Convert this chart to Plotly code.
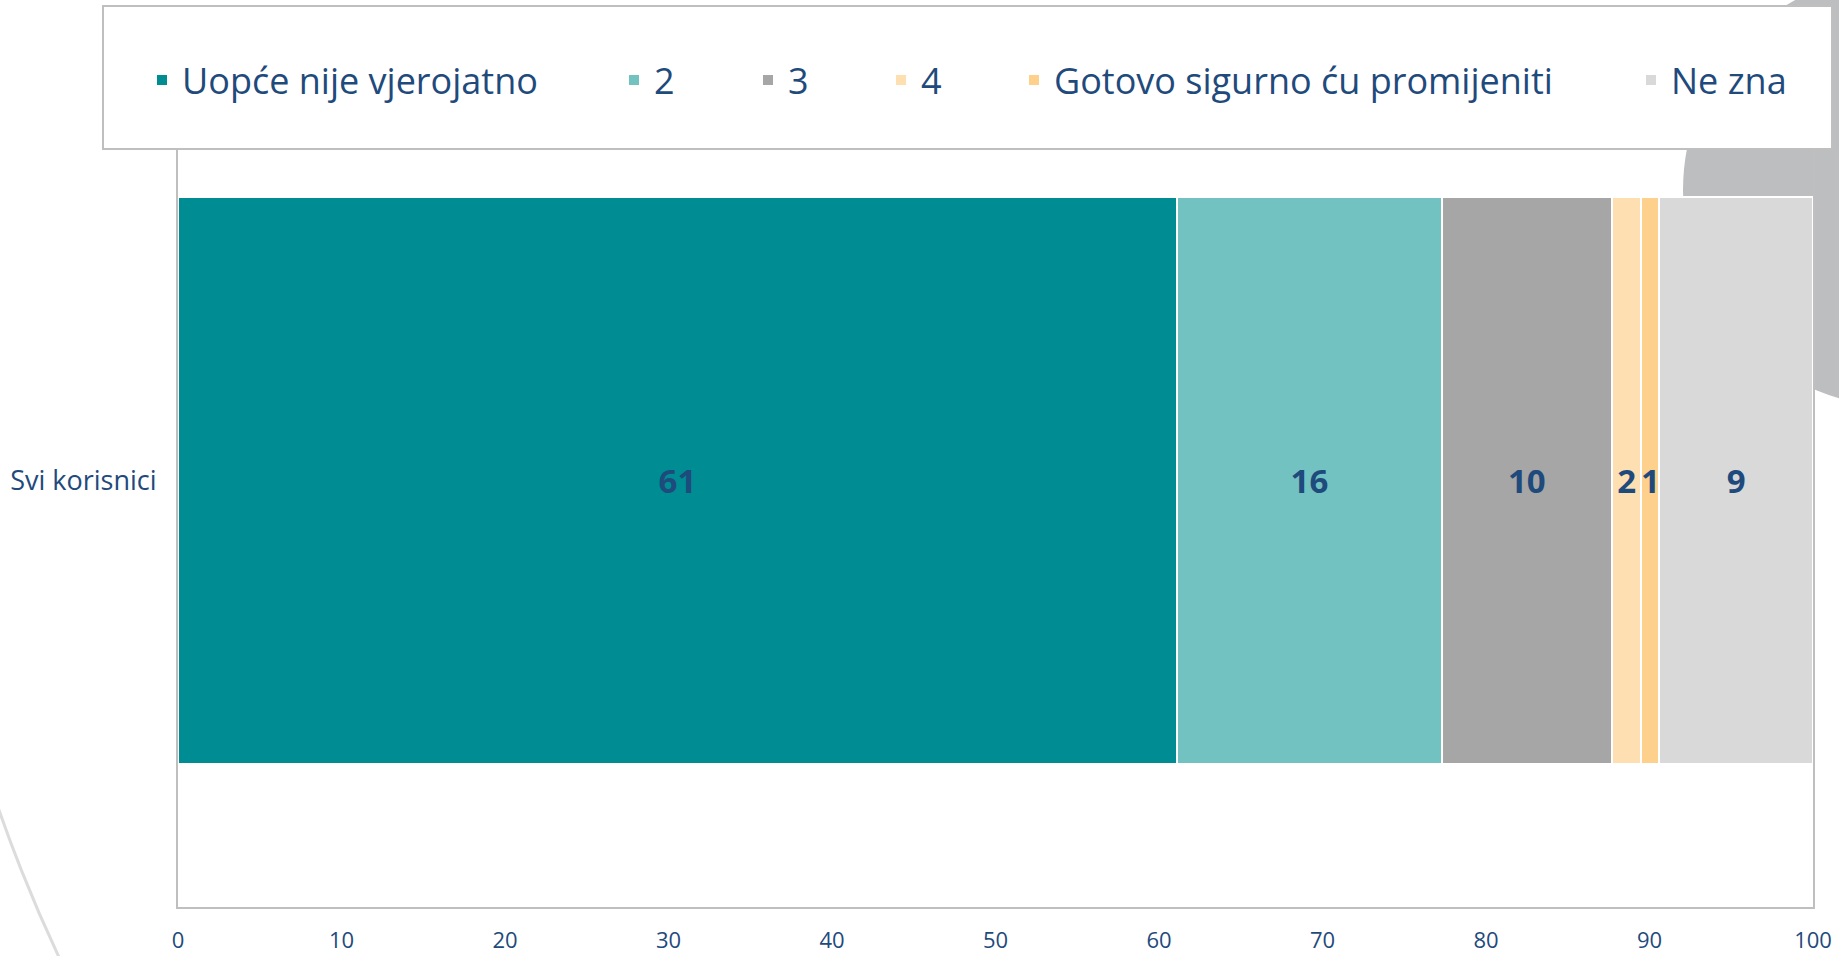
import plotly.graph_objects as go

# ---- data ----
category = ["Svi korisnici"]
series_names = ["Uopće nije vjerojatno", "2", "3", "4", "Gotovo sigurno ću promijeniti", "Ne zna"]
series_values = [61.1, 16.2, 10.4, 1.8, 1.1, 9.4]
series_colors = ["#008C93", "#73C2C2", "#A6A6A6", "#FEDFB2", "#FDD08C", "#D9D9D9"]
x_ticks = [0, 10, 20, 30, 40, 50, 60, 70, 80, 90, 100]

W, H = 1839, 956
L, R, T, B = 178, 1813, 54, 907
TXT = "#1F4A7C"
FONT = "Open Sans"


def px(x):
    return (x - L) / (R - L)


def py(y):
    return (B - y) / (B - T)


# legend text start positions (pixels)
legend_text_x = [182, 654, 788, 921, 1054, 1671]

fig = go.Figure()
for i, (name, val, col) in enumerate(zip(series_names, series_values, series_colors)):
    fig.add_trace(go.Bar(
        y=category, x=[val], name=name, orientation="h",
        marker=dict(color=col, line=dict(color="white", width=2)),
        texttemplate="%{x:.0f}", textposition="inside", insidetextanchor="middle",
        constraintext="none",
        textfont=dict(family=FONT, size=33, color=TXT, weight="bold"),
        legend="legend" if i == 0 else f"legend{i + 1}",
        hoverinfo="skip",
    ))

legends = {}
for i, tx in enumerate(legend_text_x):
    key = "legend" if i == 0 else f"legend{i + 1}"
    legends[key] = dict(
        x=(tx - 40) / W, y=1 - 80 / H, xref="container", yref="container",
        xanchor="left", yanchor="middle", orientation="h",
        bgcolor="rgba(0,0,0,0)", borderwidth=0,
        font=dict(family=FONT, size=36, color=TXT),
    )

shapes = [
    # decorative gray circle on the right
    dict(type="circle", xref="paper", yref="paper", layer="below",
         x0=px(1900 - 217), x1=px(1900 + 217), y0=py(190 + 217), y1=py(190 - 217),
         fillcolor="#BDBEC0", line=dict(width=0)),
    # decorative light arc bottom-left
    dict(type="circle", xref="paper", yref="paper", layer="below",
         x0=px(1416 - 1500), x1=px(1416 + 1500), y0=py(318 + 1500), y1=py(318 - 1500),
         fillcolor="rgba(0,0,0,0)", line=dict(color="#DCDCDC", width=3)),
    # legend frame
    dict(type="rect", xref="paper", yref="paper", layer="above",
         x0=px(103), x1=px(1832), y0=py(149), y1=py(6),
         fillcolor="white", line=dict(color="#BFBFBF", width=2)),
]

fig.update_layout(
    width=W, height=H,
    margin=dict(l=L, r=W - R, t=T, b=H - B, pad=0, autoexpand=False),
    paper_bgcolor="white", plot_bgcolor="rgba(0,0,0,0)",
    barmode="stack", bargap=0.336,
    showlegend=True,
    shapes=shapes,
    font=dict(family=FONT, color=TXT),
    **legends,
)
fig.update_xaxes(
    range=[0, 100], tickvals=x_ticks, showgrid=False, zeroline=False,
    showline=True, linecolor="#BFBFBF", linewidth=2, mirror=True,
    ticks="", ticklabelstandoff=13, automargin=False,
    tickfont=dict(family=FONT, size=22, color=TXT),
)
fig.update_yaxes(
    showgrid=False, zeroline=False,
    showline=True, linecolor="#BFBFBF", linewidth=2, mirror=True,
    ticks="", ticklabelstandoff=14, automargin=False,
    tickfont=dict(family=FONT, size=27, color=TXT),
)

fig.write_html(
    "out.html",
    config={"displayModeBar": False},
    post_script="document.body.style.margin='0';document.body.style.overflow='hidden';",
)
